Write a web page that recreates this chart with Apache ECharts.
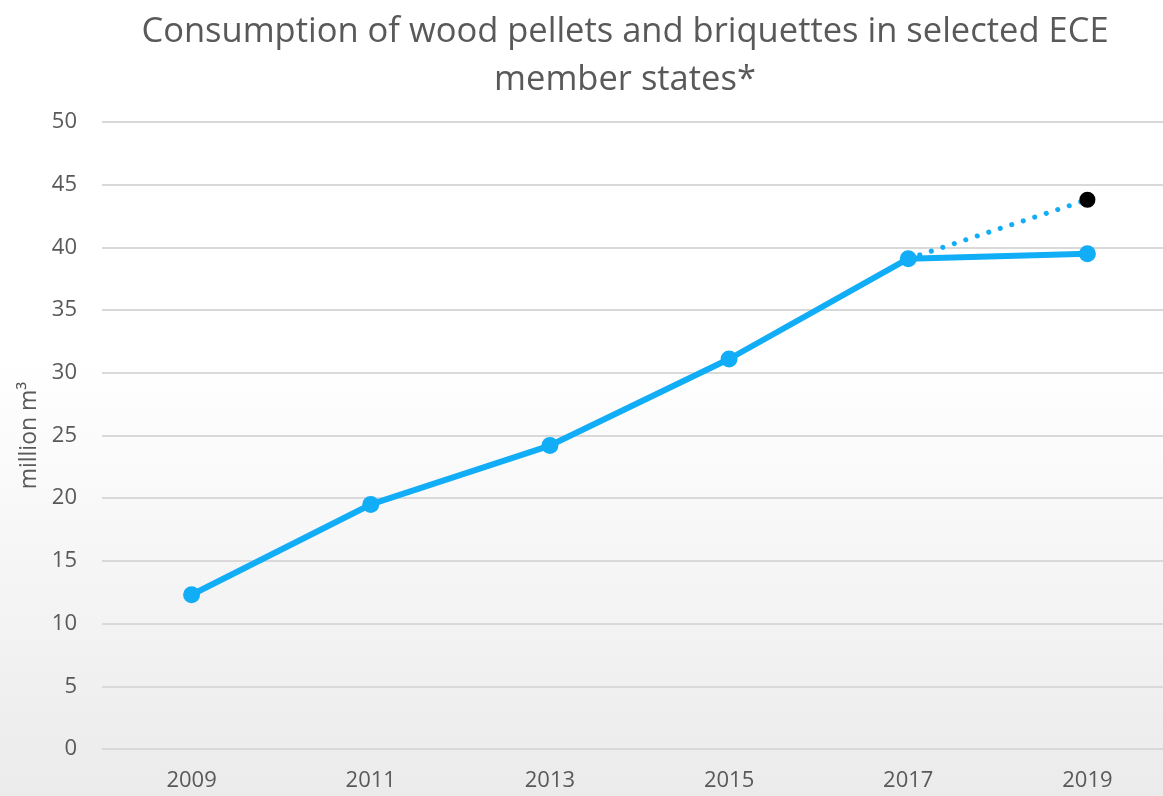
<!DOCTYPE html>
<html><head><meta charset="utf-8">
<script src="https://cdn.jsdelivr.net/npm/echarts@6/dist/echarts.min.js"></script>
<style>html,body{margin:0;padding:0;}#c{width:1163px;height:796px;}</style>
</head><body><div id="c"></div>
<script>
const categories = ['2009','2011','2013','2015','2017','2019'];
const consumption = [12.3, 19.5, 24.2, 31.1, 39.1, 39.5];
const projection = [null, null, null, null, 39.1, 43.8];
const yTicks = {min: 0, max: 50, interval: 5};

const chart = echarts.init(document.getElementById('c'));
chart.setOption({
  backgroundColor: {type:'linear', x:0, y:0, x2:0, y2:1, colorStops:[
    {offset:0, color:'#ffffff'}, {offset:0.45, color:'#ffffff'}, {offset:1, color:'#ebebeb'}]},
  title: {
    text: 'Consumption of wood pellets and briquettes in selected ECE\nmember states*',
    left: 620, textAlign: 'center', top: 3,
    textStyle: {fontFamily: 'Open Sans', fontWeight: 'normal', fontSize: 34.5, color: '#595959', lineHeight: 48}
  },
  grid: {left: 102, top: 122, right: -14, bottom: 47, outerBoundsMode: 'none', containLabel: false},
  xAxis: {
    type: 'category', data: categories, boundaryGap: true,
    axisLine: {show: false}, axisTick: {show: false},
    axisLabel: {color: '#595959', fontSize: 22, fontFamily: 'Open Sans', margin: 21}
  },
  yAxis: {
    type: 'value', min: yTicks.min, max: yTicks.max, interval: yTicks.interval,
    name: 'million m³', nameLocation: 'middle', nameGap: 61, nameRotate: 90,
    nameTextStyle: {color: '#595959', fontSize: 23, fontFamily: 'Open Sans'},
    axisLabel: {color: '#595959', fontSize: 22, fontFamily: 'Open Sans', margin: 25},
    splitLine: {lineStyle: {color: '#d9d9d9', width: 2}}
  },
  series: [
    {type: 'line', data: projection, connectNulls: false, z: 2,
     lineStyle: {color: '#11adf7', width: 5, type: [0.1, 12], cap: 'round'},
     symbol: 'circle', symbolSize: function(v, p){ return p.dataIndex === 5 ? 16 : 0; },
     itemStyle: {color: '#000000'}},
    {type: 'line', data: consumption, z: 3,
     lineStyle: {color: '#11adf7', width: 6},
     symbol: 'circle', symbolSize: 17, itemStyle: {color: '#11adf7'}}
  ],
  animation: false
});
</script></body></html>
